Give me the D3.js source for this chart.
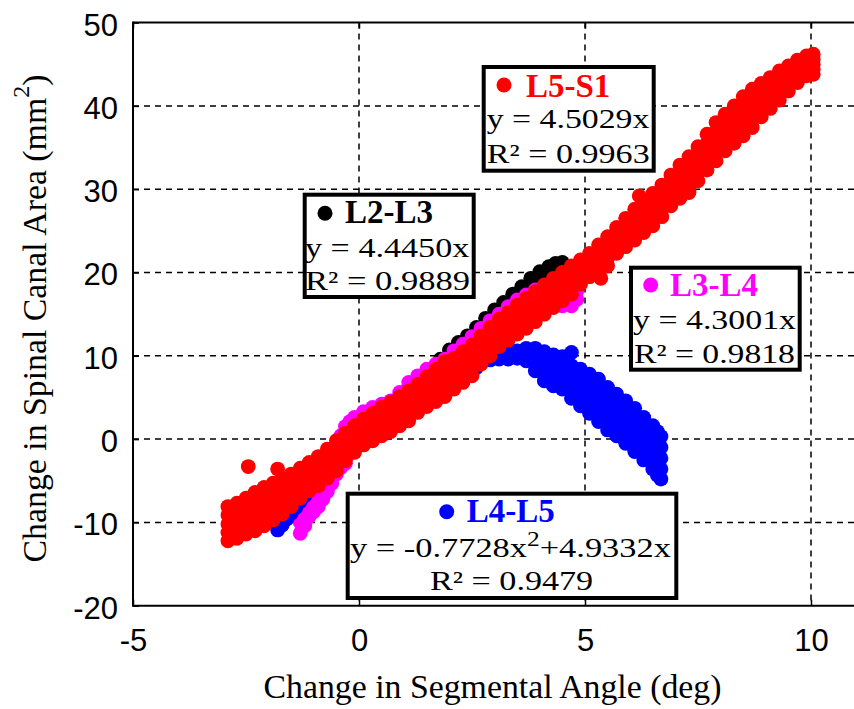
<!DOCTYPE html>
<html>
<head>
<meta charset="utf-8">
<script src="https://cdn.jsdelivr.net/npm/d3@7"></script>
<style>
  html, body { margin: 0; padding: 0; background: #fff; }
  svg { display: block; }
</style>
</head>
<body>
<svg id="chart" width="854" height="709"></svg>
<script>
// ---------------- DATA ----------------
const seriesNames = ["L2-L3", "L3-L4", "L4-L5", "L5-S1"];
const fitEquations = [["y = 4.4450x"], ["y = 4.3001x"], ["y = -0.7728x", "2", "+4.9332x"], ["y = 4.5029x"]];
const r2Labels = ["R\u00B2 = 0.9889", "R\u00B2 = 0.9818", "R\u00B2 = 0.9479", "R\u00B2 = 0.9963"];
const xTicks = [-5, 0, 5, 10];
const yTicks = [-20, -10, 0, 10, 20, 30, 40, 50];
const xGrid = [0, 5, 10];
const yGrid = [-10, 0, 10, 20, 30, 40];
const xLabel = "Change in Segmental Angle (deg)";
const yLabel = "Change in Spinal Canal Area (mm";

// each entry: [segmental angle, area readings at that angle...]
const l2l3 = [
  [-0.9,-4.9,-6.0,-7.2],[-0.5,-1.4,-2.6,-3.8],[-0.1,2.0,0.8,-0.3],[0.3,3.2,2.1,1.0],
  [0.7,4.0,3.0,2.0],[1.1,6.2,5.0,3.8],[1.5,7.9,6.7,5.5],[1.8,9.6,8.4,7.2],
  [2.0,10.7,9.5,8.3],[2.2,11.6,10.4,9.2],[2.4,12.4,11.2,10.0],[2.6,13.4,12.2,11.0],
  [2.8,14.5,13.3,12.1],[3.0,15.5,14.3,13.1],[3.2,16.4,15.2,14.0],[3.4,17.4,16.2,15.0],
  [3.6,18.3,17.1,15.9],[3.8,19.3,18.1,16.9],[4.0,20.1,18.9,17.7],[4.2,20.7,19.5,18.3],
  [4.35,21.1,19.9,18.7],[4.5,21.2,20.1,19.0]
];
const l3l4 = [
  [-1.3,-7.0,-8.5,-10.0,-11.3],[-1.2,-6.4,-7.7,-8.9,-10.4],[-1.1,-5.5,-7.0,-8.2,-9.3],
  [-1.0,-5.0,-6.3,-7.5,-8.7],[-0.9,-4.5,-5.7,-6.9,-8.1],[-0.8,-3.8,-4.9,-6.1,-7.2],
  [-0.7,-3.0,-4.1,-5.2,-6.3],[-0.6,-2.0,-3.1,-4.2,-5.3],[-0.5,-0.8,-2.0,-3.1,-4.2],
  [-0.4,0.4,-0.8,-2.1,-3.4],[-0.3,1.5,0.2,-1.2,-2.9],[-0.2,2.1,0.9,-0.3,-1.7],
  [-0.1,2.6,1.5,0.4,-0.7],[0.1,3.3,2.2,1.2,0.3],[0.3,3.8,2.9,2.0,0.8],
  [0.5,4.2,3.4,2.5,1.4],[0.7,4.6,3.7,2.8,1.9],[0.9,5.6,4.6,3.6,2.6],
  [1.1,6.8,5.6,4.4,3.2],[1.3,7.6,6.5,5.3,4.2],[1.5,8.4,7.3,6.1,4.9],
  [1.7,9.0,7.9,6.7,5.5],[1.9,9.6,8.5,7.3,6.1],[2.1,10.6,9.4,8.2,7.0],
  [2.3,11.4,10.2,9.0,7.8],[2.5,12.3,11.1,9.8,8.6],[2.7,13.3,12.1,10.8,9.6],
  [2.9,14.2,13.0,11.8,10.6],[3.1,15.0,13.9,12.7,11.6],[3.3,15.9,14.8,13.7,12.7],
  [3.5,16.7,15.6,14.5,13.5],[3.7,17.3,16.2,15.2,14.3],[3.9,17.9,16.9,16.0,15.1],
  [4.1,18.4,17.5,16.7,16.0],[4.3,18.8,17.9,17.1,16.3],[4.5,18.9,18.0,17.0,16.0],
  [4.7,18.6,17.7,16.8,16.0],[4.82,17.8,16.8]
];
const l4l5 = [
  [-1.8,-8.8,-9.9,-10.9],[-1.7,-8.2,-9.2,-10.3],[-1.6,-7.6,-8.6,-9.6],[-1.5,-7.0,-7.9,-8.9],
  [-1.4,-6.4,-7.3,-8.2],[-1.3,-5.8,-6.6,-7.5],[-1.2,-5.2,-6.0,-6.8],
  [-1.0,-4.0,-4.8,-5.6],[-0.7,-2.3,-3.2,-4.0],[-0.4,-0.8,-1.6,-2.4],[-0.1,0.9,0.0,-0.8],
  [0.2,2.2,1.2,0.3],[0.5,3.4,2.4,1.5],[0.8,4.5,3.5,2.5],[1.1,5.5,4.5,3.5],
  [1.4,6.4,5.4,4.4],[1.7,7.2,6.2,5.2],[2.0,8.0,7.0,6.0],[2.3,8.6,7.8,7.0],
  [2.6,9.2,8.6],[2.7,9.5,9.3],[2.9,9.8,9.5],[3.1,10.0,9.6],[3.3,10.2,9.6],
  [3.5,10.6,9.7],[3.7,10.9,10.0,9.4],[3.9,10.9,9.6,8.2],[4.1,10.5,9.3,8.2,7.0],
  [4.3,10.1,8.9,7.6,6.4],[4.5,9.9,8.6,7.3,6.0],[4.7,10.4,8.8,7.4,6.1,4.9],
  [4.9,8.4,7.3,6.2,5.1,4.0],[5.1,7.8,6.6,5.5,4.3,3.1],[5.3,7.2,5.9,4.7,3.4,2.1],
  [5.5,6.2,4.9,3.7,2.4,1.1],[5.7,5.4,4.2,2.9,1.7,0.4],[5.9,4.6,3.3,2.1,0.8,-0.5],
  [6.1,3.7,2.4,1.1,-0.2,-1.5],[6.3,2.6,1.3,0.1,-1.2,-2.5],[6.5,1.6,0.3,-1.0,-2.3,-3.6],
  [6.6,0.9,-0.4,-1.7,-3.0,-4.3],[6.68,0.3,-1.0,-2.3,-3.6,-4.8]
];
const l5s1 = [
  [-2.9,-8.1,-9.1,-10.2,-11.2,-12.2],[-2.7,-7.7,-8.8,-9.8,-10.9,-11.9],
  [-2.5,-7.1,-8.2,-9.3,-10.3,-11.4],[-2.3,-6.4,-7.6,-8.7,-9.9,-11.0],
  [-2.1,-5.8,-7.0,-8.1,-9.3,-10.4],[-1.9,-5.3,-6.4,-7.5,-8.6,-9.7],
  [-1.7,-4.8,-5.9,-6.9,-8.0,-9.0],[-1.5,-4.2,-5.2,-6.2,-7.1,-8.1],
  [-1.3,-3.5,-4.4,-5.3,-6.2,-7.1],[-1.1,-2.8,-3.7,-4.5,-5.4,-6.2],
  [-0.9,-2.1,-3.0,-3.9,-4.7,-5.6],[-0.7,-1.2,-2.1,-3.0,-3.8,-4.7],
  [-0.5,-0.2,-1.1,-2.0,-2.9,-3.8],[-0.3,0.7,-0.1,-1.0,-1.8,-2.6],
  [-0.1,1.6,0.8,0.0,-0.8,-1.6],[0.1,2.4,1.6,0.9,0.1,-0.7],
  [0.3,3.1,2.3,1.5,0.6,-0.2],[0.5,3.8,3.0,2.1,1.3,0.4],
  [0.7,4.4,3.5,2.7,1.8,0.9],[0.9,5.1,4.2,3.4,2.5,1.6],
  [1.1,5.8,4.9,4.0,3.1,2.2],[1.3,6.6,5.8,4.9,4.1,3.2],
  [1.5,7.5,6.6,5.7,4.8,3.9],[1.7,8.4,7.4,6.5,5.5,4.5],
  [1.9,9.3,8.2,7.2,6.2,5.1],[2.1,9.7,8.8,7.9,6.9,6.0],
  [2.3,10.5,9.6,8.7,7.7,6.8],[2.5,11.3,10.4,9.5,8.5,7.6],
  [2.7,12.4,11.6,10.7,9.9,9.0],[2.9,13.4,12.6,11.7,10.9,10.0],
  [3.1,14.4,13.6,12.8,11.9,11.1],[3.3,15.2,14.4,13.6,12.7,11.9],
  [3.5,16.1,15.2,14.4,13.5,12.6],[3.7,16.9,16.0,15.1,14.2,13.3],
  [3.9,17.7,16.8,15.9,15.0,14.1],[4.1,18.5,17.6,16.8,15.9,15.0],
  [4.3,19.3,18.4,17.6,16.7,15.8],[4.5,20.0,19.2,18.3,17.5,16.6],
  [4.7,20.8,20.0,19.1,18.3,17.4],[4.9,21.5,20.8,20.1,19.3,18.6],
  [5.1,22.3,21.6,20.9,20.2,19.5],[5.3,23.3,22.5,21.8,21.0,20.2],
  [5.5,24.3,23.4,22.6,21.7,20.8],[5.7,25.4,24.6,23.9,23.1,22.3],
  [5.9,26.5,25.7,24.8,24.0,23.1],[6.1,27.6,26.7,25.8,24.8,23.9],
  [6.3,28.6,27.7,26.7,25.8,24.8],[6.5,29.5,28.5,27.6,26.6,25.6],
  [6.7,30.5,29.6,28.6,27.7,26.7],[6.9,31.7,30.8,29.9,28.9,28.0],
  [7.1,32.9,31.9,30.9,29.9,28.9],[7.3,33.9,32.9,31.9,30.9,29.9],
  [7.5,35.1,34.1,33.1,32.0,31.0],[7.7,36.6,35.5,34.5,33.4,32.3],
  [7.9,38.0,36.9,35.7,34.6,33.4],[8.1,39.0,37.9,36.8,35.7,34.6],
  [8.3,40.0,38.9,37.8,36.6,35.5],[8.5,41.1,39.9,38.8,37.6,36.4],
  [8.7,42.0,40.9,39.7,38.6,37.4],[8.9,42.7,41.7,40.7,39.7,38.7],
  [9.1,43.4,42.5,41.6,40.6,39.7],[9.3,44.2,43.3,42.5,41.6,40.7],
  [9.5,44.8,44.1,43.3,42.6,41.8],[9.7,45.5,44.8,44.2,43.5,42.8],
  [9.9,46.0,45.4,44.8,44.2,43.6],[10.05,46.2,45.6,45.0,44.4,43.8],
  [-2.45,-3.3],[-1.8,-3.6],[5.35,19.3],[6.2,29.2],[7.3,29.6]
];
const seriesData = [l2l3, l3l4, l4l5, l5s1];

// ---------------- STYLE / LAYOUT ----------------
const seriesColors = ["#000000", "#ff00ff", "#0000ff", "#ff0000"];
const sansFont = "'Liberation Sans', Arial, Helvetica, sans-serif";
const serifFont = "'Liberation Serif', 'Times New Roman', Times, serif";
const markerR = 7.4;
const annotLayout = [
  { box: [302.7, 192.7, 475.7, 299], dot: [325, 213.3], title: [345, 222.7], eq: [305, 256.7, 165], r2: [305, 290, 165] },
  { box: [629, 265.7, 801.7, 371.7], dot: [650.7, 285], title: [670, 296.3], eq: [633, 329, 163.7], r2: [634, 363.3, 161] },
  { box: [345.7, 491.7, 678.3, 600], dot: [446.7, 511.7], title: [466.7, 521.7], eq: [350, 556.7, 321.7], r2: [430, 590, 163.3] },
  { box: [481.7, 65, 655.7, 172.7], dot: [504, 85], title: [526, 96.7], eq: [486.7, 128.3, 163.3], r2: [486.7, 163.3, 163] }
];

const svg = d3.select("#chart");
const x = d3.scaleLinear().domain([-5, 11]).range([133, 856.2]);
const y = d3.scaleLinear().domain([-20, 50]).range([605.7, 22.6]);

svg.append("rect").attr("width", 854).attr("height", 709).attr("fill", "#fff");

// grid
const grid = svg.append("g").attr("stroke", "#000").attr("stroke-width", 1.5).attr("stroke-dasharray", "6,5");
grid.selectAll(".gx").data(xGrid).join("line")
  .attr("x1", d => x(d)).attr("x2", d => x(d)).attr("y1", y(50)).attr("y2", y(-20));
grid.selectAll(".gy").data(yGrid).join("line")
  .attr("y1", d => y(d)).attr("y2", d => y(d)).attr("x1", x(-5)).attr("x2", x(11));

// scatter
seriesData.forEach((cols, i) => {
  const pts = cols.flatMap(c => c.slice(1).map(v => [c[0], v]));
  svg.append("g").selectAll("circle").data(pts).join("circle")
    .attr("cx", d => x(d[0])).attr("cy", d => y(d[1]))
    .attr("r", markerR).attr("fill", seriesColors[i]);
});

// axes
const fmt = d => String(d);
const styleAxis = g => {
  g.select(".domain").remove();
  g.selectAll(".tick line").attr("stroke", "#000").attr("stroke-width", 1.5);
  g.selectAll("text").attr("font-family", sansFont).attr("font-size", 31).attr("fill", "#000");
};
svg.append("g").attr("transform", `translate(0,${y(-20)})`)
  .call(d3.axisBottom(x).tickValues(xTicks).tickSizeInner(-6).tickSizeOuter(0).tickPadding(23).tickFormat(fmt))
  .call(styleAxis);
svg.append("g").attr("transform", `translate(${x(-5)},0)`)
  .call(d3.axisLeft(y).tickValues(yTicks).tickSizeInner(-6).tickSizeOuter(0).tickPadding(15).tickFormat(fmt))
  .call(styleAxis)
  .call(g => g.selectAll("text").attr("dy", "0.4em"));
svg.append("g").attr("transform", `translate(0,${y(50)})`)
  .call(d3.axisTop(x).tickValues(xTicks).tickSizeInner(-6).tickSizeOuter(0).tickFormat(""))
  .call(styleAxis);

// frame
const frame = svg.append("g").attr("stroke", "#000").attr("stroke-width", 2).attr("fill", "none");
frame.append("line").attr("x1", x(-5)).attr("x2", x(-5)).attr("y1", y(50) - 1).attr("y2", y(-20) + 1);
frame.append("line").attr("x1", x(-5)).attr("x2", x(11)).attr("y1", y(-20)).attr("y2", y(-20));
frame.append("line").attr("x1", x(-5)).attr("x2", x(11)).attr("y1", y(50)).attr("y2", y(50));

// axis titles
svg.append("text").attr("x", 492.5).attr("y", 698).attr("text-anchor", "middle")
  .attr("font-family", serifFont).attr("font-size", 33.8).attr("fill", "#000").text(xLabel);
const yt = svg.append("text").attr("transform", "translate(46,318.5) rotate(-90)")
  .attr("text-anchor", "middle").attr("font-family", serifFont).attr("font-size", 33.8).attr("fill", "#000");
yt.append("tspan").text(yLabel);
yt.append("tspan").attr("font-size", 24).attr("dy", -17).text("2");
yt.append("tspan").attr("dy", 17).text(")");

// annotation boxes
function placeStretched(sel, x0, base, targetW) {
  sel.attr("transform", `translate(${x0},${base})`);
  const w = sel.node().getBBox().width;
  sel.attr("transform", `translate(${x0},${base}) scale(${targetW / w},1)`);
}
annotLayout.forEach((L, i) => {
  const g = svg.append("g");
  const [x0, y0, x1, y1] = L.box;
  g.append("rect").attr("x", x0 + 2).attr("y", y0 + 2).attr("width", x1 - x0 - 4).attr("height", y1 - y0 - 4)
    .attr("fill", "#fff").attr("stroke", "#000").attr("stroke-width", 4);
  g.append("circle").attr("cx", L.dot[0]).attr("cy", L.dot[1]).attr("r", 7.5).attr("fill", seriesColors[i]);
  g.append("text").attr("x", L.title[0]).attr("y", L.title[1]).attr("font-family", serifFont)
    .attr("font-weight", "bold").attr("font-size", 33).attr("fill", seriesColors[i]).text(seriesNames[i]);
  const eq = g.append("text").attr("font-family", serifFont).attr("font-size", 27).attr("fill", "#000");
  const parts = fitEquations[i];
  eq.append("tspan").text(parts[0]);
  if (parts.length > 1) {
    eq.append("tspan").attr("font-size", 20).attr("dy", -11).text(parts[1]);
    eq.append("tspan").attr("dy", 11).text(parts[2]);
  }
  placeStretched(eq, L.eq[0], L.eq[1], L.eq[2]);
  const r2 = g.append("text").attr("font-family", serifFont).attr("font-size", 27).attr("fill", "#000").text(r2Labels[i]);
  placeStretched(r2, L.r2[0], L.r2[1], L.r2[2]);
});
</script>
</body>
</html>
